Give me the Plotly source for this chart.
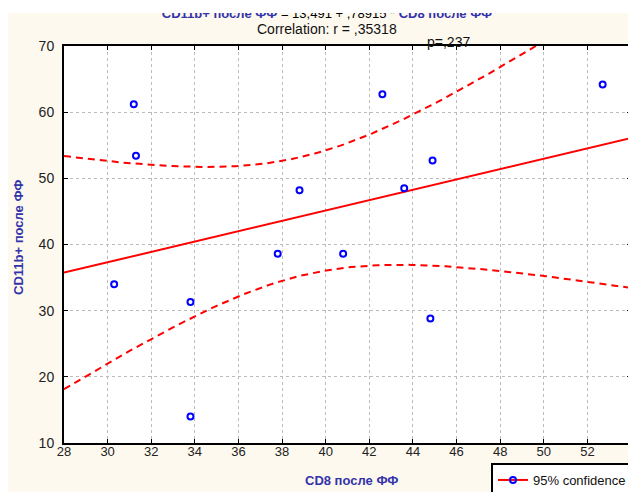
import numpy as np
import plotly.graph_objects as go

# Data
cd8 = [30.3, 31.2, 31.3, 33.8, 33.8, 37.8, 38.8, 40.8, 42.6, 43.6, 44.9, 44.8, 52.7]
cd11b = [34.0, 61.2, 53.4, 31.3, 14.0, 38.6, 48.2, 38.6, 62.7, 48.5, 52.7, 28.8, 64.2]
x_ticks = list(range(28, 55, 2))
y_ticks = list(range(10, 71, 10))
t_crit = 2.201  # t(0.975, n-2=11)

xa = np.array(cd8)
ya = np.array(cd11b)
n = len(xa)
slope, intercept = np.polyfit(xa, ya, 1)
resid = ya - (intercept + slope * xa)
s = np.sqrt(np.sum(resid ** 2) / (n - 2))
sxx = np.sum((xa - xa.mean()) ** 2)
xf = np.linspace(28, 54, 200)
yf = intercept + slope * xf
hw = t_crit * s * np.sqrt(1.0 / n + (xf - xa.mean()) ** 2 / sxx)

RED = "#ff0000"
BLUE = "#0000ff"
TBLUE = "#3333aa"
FONT = "Liberation Sans, Arial"

fig = go.Figure()
fig.add_trace(go.Scatter(x=xf, y=yf + hw, mode="lines", line=dict(color=RED, width=2, dash="7px,5px"),
                         showlegend=False, hoverinfo="skip"))
fig.add_trace(go.Scatter(x=xf, y=yf - hw, mode="lines", line=dict(color=RED, width=2, dash="7px,5px"),
                         showlegend=False, hoverinfo="skip"))
fig.add_trace(go.Scatter(x=xf, y=yf, mode="lines", line=dict(color=RED, width=2),
                         showlegend=False, hoverinfo="skip"))
fig.add_trace(go.Scatter(x=cd8, y=cd11b, mode="markers",
                         marker=dict(symbol="circle-open", size=6, color=BLUE, line=dict(width=2, color=BLUE)),
                         showlegend=False))
# legend entry
fig.add_trace(go.Scatter(x=[None], y=[None], mode="lines+markers", name="95% confidence",
                         line=dict(color=RED, width=2),
                         marker=dict(symbol="circle-open", size=6, color=BLUE, line=dict(width=2, color=BLUE))))
# clipped title drawn as text trace (so the white band can cover its top half)
title_txt = ("<b><span style='color:#3333aa'>CD11b+ после ФФ</span></b> = 13,491 + ,78915 * "
             "<b><span style='color:#3333aa'>CD8 после ФФ</span></b>")
fig.add_trace(go.Scatter(x=[40.06], y=[70], mode="markers+text", text=[title_txt], cliponaxis=False,
                         textposition="top center",
                         marker=dict(size=38, color="rgba(0,0,0,0)"),
                         textfont=dict(family="Liberation Sans, Arial", size=13, color="#000000"),
                         showlegend=False, hoverinfo="skip"))

# figure is shifted by the page's 8px body margin; plot area on page: x 64..631, y 46..443
PH = 397.0
PW = 567.0
fig.add_shape(type="rect", xref="paper", yref="paper", x0=-0.2, x1=1.2,
              y0=1 + (46 - 13) / PH, y1=1 + 60 / PH, fillcolor="white", line=dict(width=0), layer="above")

fig.update_layout(
    width=628, height=484,
    margin=dict(l=56, r=5, t=38, b=49, autoexpand=False),
    paper_bgcolor="#fdf9ef", plot_bgcolor="white",
    font=dict(family=FONT, size=13, color="#222222"),
    showlegend=True,
    legend=dict(x=(633 - 64) / PW, y=-(463 - 443) / PH, xanchor="right", yanchor="top", bgcolor="white",
                bordercolor="black", borderwidth=2, font=dict(family=FONT, size=13, color="#111111"),
                itemwidth=30, tracegroupgap=0),
    annotations=[
        dict(text="Correlation: r = ,35318", x=(327 - 64) / PW, y=1 + (46 - 29) / PH, xref="paper", yref="paper",
             xanchor="center", yanchor="middle",
             showarrow=False, font=dict(family="Liberation Sans, Arial", size=14, color="#111111")),
        dict(text="p=,237", x=(448 - 64) / PW, y=1 + (46 - 42) / PH, xref="paper", yref="paper",
             xanchor="center", yanchor="middle",
             showarrow=False, font=dict(family="Liberation Sans, Arial", size=14, color="#111111")),
        dict(text="<b>CD8 после ФФ</b>", x=(351 - 64) / PW, y=-(481 - 443) / PH, xref="paper", yref="paper",
             xanchor="center", yanchor="middle",
             showarrow=False, font=dict(family=FONT, size=13, color=TBLUE)),
        dict(text="<b>CD11b+ после ФФ</b>", x=-(64 - 18) / PW, y=(443 - 238) / PH, xref="paper", yref="paper",
             xanchor="center", yanchor="middle",
             showarrow=False, textangle=-90, font=dict(family=FONT, size=13, color=TBLUE)),
    ],
)
fig.update_xaxes(range=[28, 54], tickvals=x_ticks, ticks="inside", ticklen=4, tickcolor="black",
                 showline=True, linecolor="black", linewidth=2, mirror="allticks",
                 showgrid=True, gridcolor="#bbbbbb", griddash="dot", gridwidth=1, zeroline=False,
                 ticklabelstandoff=-5, tickfont=dict(size=13))
fig.update_yaxes(range=[10, 70], tickvals=y_ticks, ticks="inside", ticklen=4, tickcolor="black",
                 showline=True, linecolor="black", linewidth=2, mirror="allticks",
                 showgrid=True, gridcolor="#bbbbbb", griddash="dot", gridwidth=1, zeroline=False,
                 ticklabelstandoff=5, tickfont=dict(size=14))

fig.write_html("out.html")
